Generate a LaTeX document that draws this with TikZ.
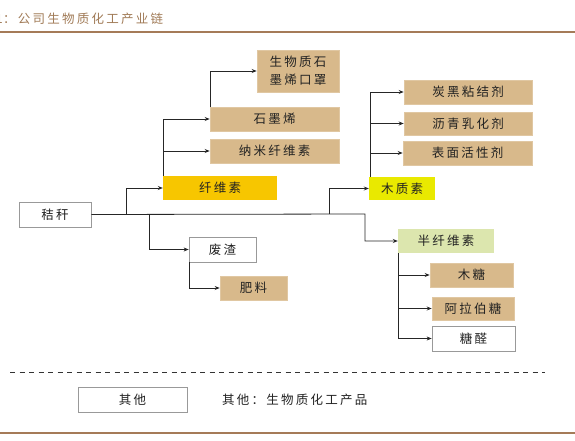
\documentclass[tikz,border=0pt]{standalone}
\usepackage{fontspec}
\setmainfont{Noto Sans CJK SC}
\newfontfamily\cjk[LetterSpace=18]{Noto Sans CJK SC}
\usetikzlibrary{arrows.meta}
\definecolor{tan}{HTML}{D8B98B}
\definecolor{gold}{HTML}{F7C600}
\definecolor{lemon}{HTML}{E9E900}
\definecolor{pale}{HTML}{DCE6AE}
\definecolor{brownline}{HTML}{A57B58}
\definecolor{titlec}{HTML}{A07A56}
\definecolor{txt}{HTML}{222222}
\tikzset{
  base/.style={inner sep=0pt, align=center, text=txt, font=\cjk\fontsize{12.5}{15}\selectfont},
  tanbox/.style={base, fill=tan, draw=tan!80!white, line width=0.6pt},
  whitebox/.style={base, fill=white, draw=gray!80, line width=0.7pt},
  goldbox/.style={base, fill=gold},
  lemonbox/.style={base, fill=lemon},
  palebox/.style={base, fill=pale},
  arr/.style={draw=black!85, line width=0.8pt, -{Stealth[length=5pt,width=4pt]}},
}
\begin{document}
\begin{tikzpicture}[x=1pt,y=-1pt]
\useasboundingbox (0,0) rectangle (575,441);
% title
\node[anchor=base west, inner sep=0pt, text=titlec, font=\cjk\fontsize{12.5}{14}\selectfont] (ttl) at (3,24) {：公司生物质化工产业链};
\node[anchor=base east, inner sep=0pt, text=titlec, font=\cjk\fontsize{12.5}{14}\selectfont] (ttl0) at (ttl.base west) {图1};
\coordinate (tl1) at (0,32);
\coordinate (tl2) at (575,32);
\draw[brownline, line width=1.4pt] (tl1) -- (tl2);
\coordinate (bl1) at (0,433);
\coordinate (bl2) at (575,433);
\draw[brownline, line width=1.6pt] (bl1) -- (bl2);

% nodes
\node[whitebox, minimum width=72pt, minimum height=25pt] (jg) at (55,214.5) {秸秆};
\node[goldbox, minimum width=114pt, minimum height=24pt] (xws) at (220,188) {纤维素};
\node[tanbox, minimum width=82pt, minimum height=42pt, font=\cjk\fontsize{12.5}{18}\selectfont] (kz) at (298,71) {生物质石\\墨烯口罩};
\node[tanbox, minimum width=129pt, minimum height=24pt] (smx) at (274.5,119) {石墨烯};
\node[tanbox, minimum width=129pt, minimum height=24pt] (nmx) at (274.5,151) {纳米纤维素};
\node[lemonbox, minimum width=66pt, minimum height=23pt] (mzs) at (402,188.5) {木质素};
\node[tanbox, minimum width=128pt, minimum height=24pt] (thj) at (468,92) {炭黑粘结剂};
\node[tanbox, minimum width=128pt, minimum height=23pt] (lqr) at (468,123.5) {沥青乳化剂};
\node[tanbox, minimum width=129pt, minimum height=24pt] (bmh) at (467.5,153) {表面活性剂};
\node[whitebox, minimum width=67pt, minimum height=25pt] (fz) at (222.5,249.5) {废渣};
\node[tanbox, minimum width=67pt, minimum height=24pt] (fl) at (253.5,288) {肥料};
\node[palebox, minimum width=96pt, minimum height=24pt] (bxw) at (446,241) {半纤维素};
\node[tanbox, minimum width=83pt, minimum height=24pt] (mt) at (471.5,275) {木糖};
\node[tanbox, minimum width=82pt, minimum height=23pt] (alb) at (473,308.5) {阿拉伯糖};
\node[whitebox, minimum width=83pt, minimum height=25pt] (tq) at (473.5,338.5) {糖醛};

% connectors
\coordinate (b1) at (126,214);
\coordinate (b2) at (149,214);
\coordinate (b3) at (329,214);
\coordinate (m1) at (365,214);
\draw[arr] (jg.east) -- (m1) |- (bxw.west);
\draw[arr] (b1) |- (xws.west);
\draw[arr] (b2) |- (fz.west);
\draw[arr] (b3) |- (mzs.west);
\draw[arr] ([xshift=1pt]xws.north west) |- (smx.west);
\draw[arr] ([xshift=1pt]xws.north west) |- (nmx.west);
\draw[arr] ([xshift=1pt]smx.north west) |- (kz.west);
\draw[arr] ([xshift=2pt]mzs.north west) |- (thj.west);
\draw[arr] ([xshift=2pt]mzs.north west) |- (lqr.west);
\draw[arr] ([xshift=2pt]mzs.north west) |- (bmh.west);
\draw[arr] ([xshift=1pt]fz.south west) |- (fl.west);
\draw[arr] ([xshift=1pt]bxw.south west) |- (mt.west);
\draw[arr] ([xshift=1pt]bxw.south west) |- (alb.west);
\draw[arr] ([xshift=1pt]bxw.south west) |- (tq.west);

% legend
\coordinate (d1) at (10,372);
\coordinate (d2) at (545,372);
\draw[black!80, line width=0.7pt, dash pattern=on 5pt off 4.5pt] (d1) -- (d2);
\node[whitebox, minimum width=109pt, minimum height=25pt] (qt) at (132.5,399.5) {其他};
\node[base, anchor=west] (lg) at (222,400) {其他：生物质化工产品};
\end{tikzpicture}
\end{document}
